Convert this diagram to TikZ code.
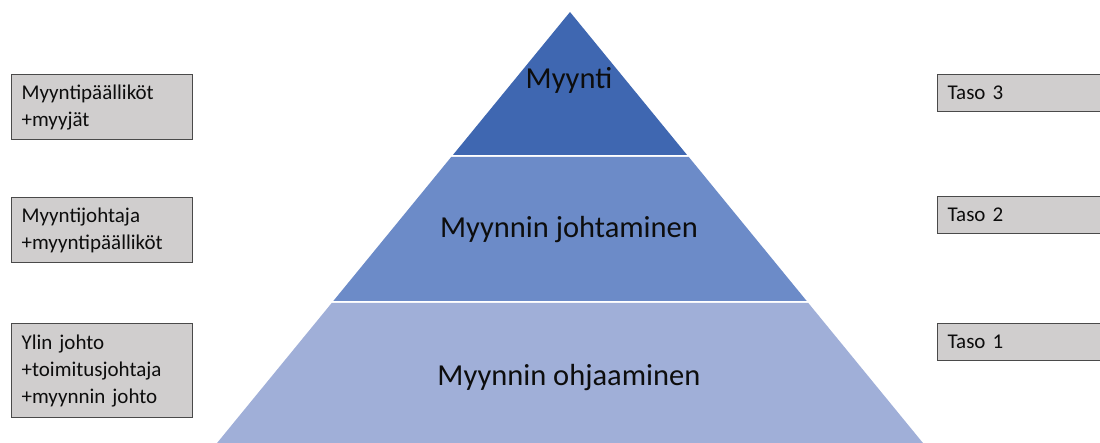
\documentclass[tikz,border=0pt]{standalone}
\usepackage{fontspec}
\setmainfont{Carlito}
\definecolor{topblue}{HTML}{3F67B1}
\definecolor{midblue}{HTML}{6C8BC8}
\definecolor{lowblue}{HTML}{A0AFD8}
\definecolor{boxgray}{HTML}{D0CECE}
\definecolor{boxline}{HTML}{4A4A4A}
\definecolor{txt}{HTML}{0D0D0D}
\begin{document}
\begin{tikzpicture}[x=1pt,y=-1pt,
  lbox/.style={draw=boxline, line width=1.2pt, fill=boxgray, anchor=north west,
    text width=161pt, inner xsep=10pt, inner ysep=0pt, align=left, text=txt,
    font=\fontsize{21}{27}\selectfont},
  rbox/.style={draw=boxline, line width=1.2pt, fill=boxgray, anchor=north west,
    text width=190pt, inner xsep=10pt, inner ysep=0pt, align=left, text=txt,
    minimum height=37pt, font=\fontsize{21}{27}\selectfont},
  plabel/.style={anchor=base, text=txt, font=\fontsize{30.5}{36}\selectfont}]
\useasboundingbox (0,0) rectangle (1100,443);
\clip (0,0) rectangle (1100,443);
% pyramid (x offset = (y-12)*0.819)
\fill[topblue] (570,12) -- (452.9,155) -- (687.1,155) -- cycle;
\fill[midblue] (451.2,157) -- (333.3,301) -- (806.7,301) -- (688.8,157) -- cycle;
\fill[lowblue] (331.7,303) -- (210,451.6) -- (930,451.6) -- (808.3,303) -- cycle;
% labels
\node[plabel] (p3) at (569,89) {Myynti};
\node[plabel] (p2) at (569,238) {Myynnin johtaminen};
\node[plabel] (p1) at (569,385) {Myynnin ohjaaminen};
% left boxes
\node[lbox, minimum height=65pt] (l3) at (11,74) {Myyntipäälliköt\\+myyjät};
\node[lbox, minimum height=65pt] (l2) at (11,197) {Myyntijohtaja\\+myyntipäälliköt};
\node[lbox, minimum height=94pt] (l1) at (11,323) {Ylin johto\\+toimitusjohtaja\\+myynnin johto};
% right boxes
\node[rbox] (r3) at (937,74) {Taso 3};
\node[rbox] (r2) at (937,196) {Taso 2};
\node[rbox] (r1) at (937,323) {Taso 1};
\end{tikzpicture}
\end{document}
